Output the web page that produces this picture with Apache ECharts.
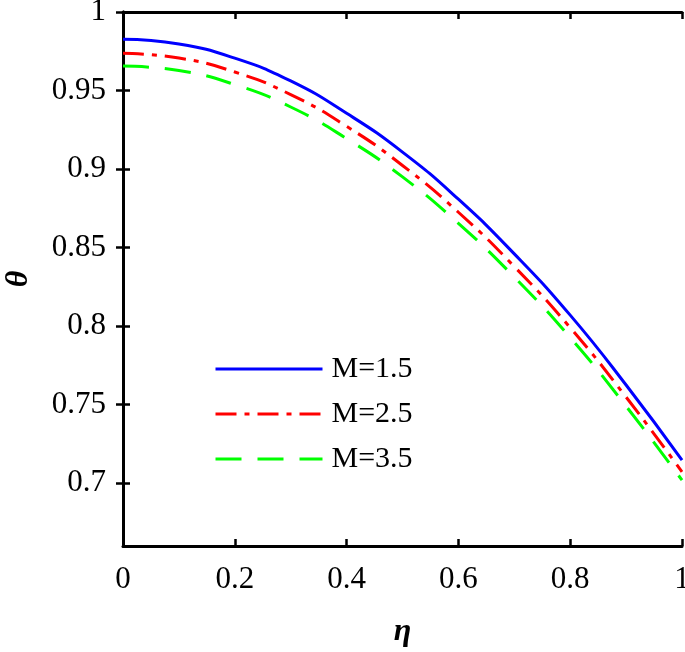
<!DOCTYPE html>
<html><head><meta charset="utf-8">
<script src="https://cdn.jsdelivr.net/npm/echarts@6/dist/echarts.min.js"></script>
<style>html,body{margin:0;padding:0;background:#fff}#c{width:685px;height:652px}</style>
</head><body><div id="c"></div>
<script>
const eta = [0, 0.1, 0.2, 0.3, 0.4, 0.5, 0.6, 0.7, 0.8, 0.9, 1.0];
const thetaM15 = [0.9826, 0.9796, 0.9706, 0.9561, 0.9355, 0.9108, 0.8808, 0.8460, 0.8070, 0.7625, 0.7146];
const thetaM25 = [0.9737, 0.9707, 0.9618, 0.9474, 0.9272, 0.9023, 0.8725, 0.8379, 0.7990, 0.7548, 0.7072];
const thetaM35 = [0.9656, 0.9627, 0.9538, 0.9395, 0.9194, 0.8950, 0.8654, 0.8312, 0.7927, 0.7490, 0.7019];
const seriesNames = ['M=1.5', 'M=2.5', 'M=3.5'];
const xTicks = [0, 0.2, 0.4, 0.6, 0.8, 1];
const yTicks = [0.7, 0.75, 0.8, 0.85, 0.9, 0.95, 1];

const font = "'Liberation Serif', 'Times New Roman', serif";
const pair = arr => eta.map((x, i) => [x, arr[i]]);

const chart = echarts.init(document.getElementById('c'));
const axisLine = {show: true, lineStyle: {color: '#000', width: 3}};
const tickIn = {show: true, inside: true, length: 7, lineStyle: {color: '#000', width: 2.5}};
chart.setOption({
  animation: false,
  backgroundColor: '#fff',
  grid: {left: 123, right: 3, top: 12, bottom: 106, containLabel: false, outerBoundsMode: 'none'},
  xAxis: [
    {type: 'value', min: 0, max: 1, position: 'bottom',
     axisLine, axisTick: {...tickIn, customValues: xTicks}, splitLine: {show: false},
     axisLabel: {customValues: xTicks, fontFamily: font, fontSize: 31, color: '#000', margin: 18,
       formatter: v => String(+v.toFixed(2))},
     name: 'η', nameLocation: 'middle', nameGap: 70,
     nameTextStyle: {fontFamily: font, fontSize: 32, fontWeight: 'bold', fontStyle: 'italic', color: '#000'}},
    {type: 'value', min: 0, max: 1, position: 'top',
     axisLine, axisTick: {...tickIn, customValues: xTicks}, axisLabel: {show: false}, splitLine: {show: false}}
  ],
  yAxis: [
    {type: 'value', min: 0.66, max: 1, position: 'left',
     axisLine, axisTick: {...tickIn, customValues: yTicks}, splitLine: {show: false},
     axisLabel: {customValues: yTicks, fontFamily: font, fontSize: 31, color: '#000', margin: 17,
       formatter: v => String(+v.toFixed(2))},
     name: 'θ', nameLocation: 'middle', nameGap: 88, nameRotate: 90,
     nameTextStyle: {fontFamily: font, fontSize: 32, fontWeight: 'bold', fontStyle: 'italic', color: '#000'}},
    {type: 'value', min: 0.66, max: 1, position: 'right',
     axisLine, axisTick: {...tickIn, customValues: yTicks}, axisLabel: {show: false}, splitLine: {show: false}}
  ],
  legend: {
    orient: 'vertical', left: 209, top: 349, itemWidth: 107, itemHeight: 20, itemGap: 15,
    itemStyle: {opacity: 0},
    lineStyle: {width: 3},
    textStyle: {fontFamily: font, fontSize: 30, color: '#000', padding: [0, 0, 0, 4], lineHeight: 30},
    data: seriesNames
  },
  series: [
    {name: seriesNames[0], type: 'line', smooth: true, showSymbol: false, symbol: 'none', data: pair(thetaM15),
     color: '#0000ff', lineStyle: {color: '#0000ff', width: 3, type: 'solid'}},
    {name: seriesNames[1], type: 'line', smooth: true, showSymbol: false, symbol: 'none', data: pair(thetaM25),
     color: '#ff0000', lineStyle: {color: '#ff0000', width: 3, type: [21, 8, 5, 8]}},
    {name: seriesNames[2], type: 'line', smooth: true, showSymbol: false, symbol: 'none', data: pair(thetaM35),
     color: '#00ff00', lineStyle: {color: '#00ff00', width: 3, type: [26, 16]}}
  ]
});
</script></body></html>
